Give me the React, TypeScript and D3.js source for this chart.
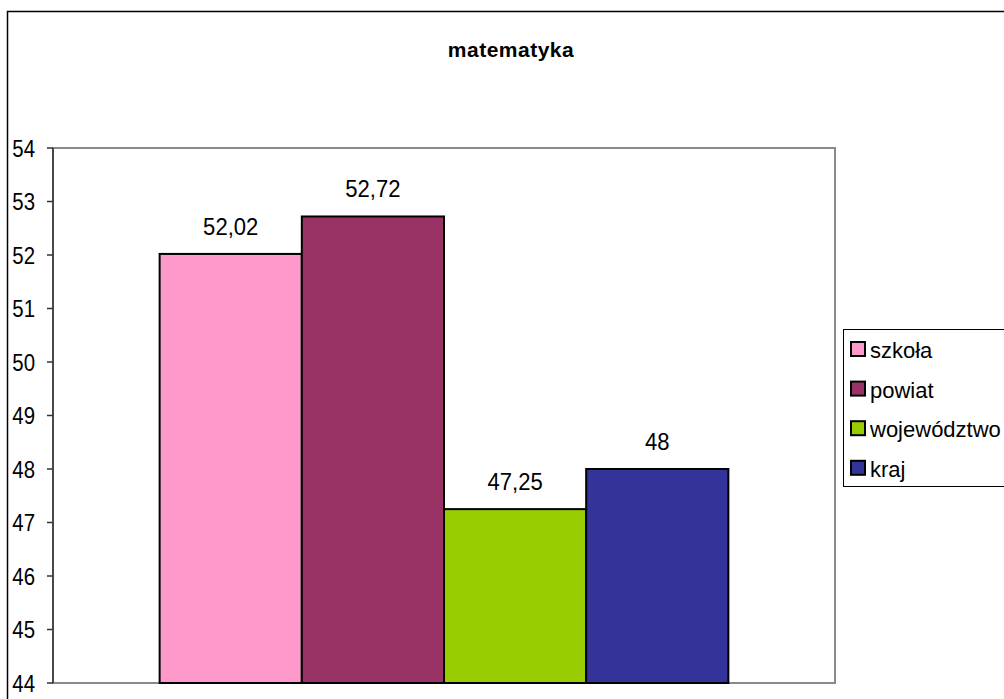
import React, { useEffect, useRef } from "react";
import { select, scaleBand, scaleLinear, range } from "d3";

const title = "matematyka";
const seriesNames = ["szkoła", "powiat", "województwo", "kraj"];
const seriesValues = [52.02, 52.72, 47.25, 48];
const seriesLabels = ["52,02", "52,72", "47,25", "48"];
const seriesColors = ["#FF99CC", "#993366", "#99CC00", "#333399"];
const yTicks = [44, 45, 46, 47, 48, 49, 50, 51, 52, 53, 54];

const W = 1004;
const H = 699;
const plot = { left: 53, top: 148, right: 835, bottom: 683 };
const font = "'Liberation Sans', Arial, sans-serif";

const App = () => {
  const svgRef = useRef<SVGSVGElement>(null);

  useEffect(() => {
    const svg = select(svgRef.current);
    svg.selectAll("*").remove();

    // scales
    const xScale = scaleBand<string>()
      .domain(seriesNames)
      .range([plot.left, plot.right])
      .paddingInner(0)
      .paddingOuter(0.75);
    const yScale = scaleLinear()
      .domain([44, 54])
      .range([plot.bottom, plot.top]);

    svg.append("rect")
      .attr("width", W)
      .attr("height", H)
      .attr("fill", "#fff");

    // outer chart frame (cropped on right and bottom)
    svg.append("rect")
      .attr("x", 7.5)
      .attr("y", 11.5)
      .attr("width", W + 20)
      .attr("height", H + 20)
      .attr("fill", "none")
      .attr("stroke", "#000")
      .attr("stroke-width", 1.5);

    svg.append("text")
      .attr("x", 511)
      .attr("y", 57)
      .attr("text-anchor", "middle")
      .attr("font-family", font)
      .attr("font-weight", "bold")
      .attr("font-size", 21)
      .attr("letter-spacing", 0.5)
      .text(title);

    // plot area border
    svg.append("rect")
      .attr("x", plot.left)
      .attr("y", plot.top)
      .attr("width", plot.right - plot.left)
      .attr("height", plot.bottom - plot.top)
      .attr("fill", "#fff")
      .attr("stroke", "#8a8a8a")
      .attr("stroke-width", 2);

    // bars
    svg.selectAll(".bar")
      .data(range(seriesNames.length))
      .join("rect")
      .attr("class", "bar")
      .attr("x", i => xScale(seriesNames[i])!)
      .attr("y", i => yScale(seriesValues[i]))
      .attr("width", xScale.bandwidth())
      .attr("height", i => yScale(44) - yScale(seriesValues[i]))
      .attr("fill", i => seriesColors[i])
      .attr("stroke", "#000")
      .attr("stroke-width", 2);

    // value labels (the original font is slightly condensed)
    svg.selectAll(".lbl")
      .data(range(seriesNames.length))
      .join("text")
      .attr("class", "lbl")
      .attr("transform", i =>
        `translate(${xScale(seriesNames[i])! + xScale.bandwidth() / 2}, ${yScale(seriesValues[i]) - 19}) scale(0.92, 1)`)
      .attr("text-anchor", "middle")
      .attr("font-family", font)
      .attr("font-size", 24)
      .text(i => seriesLabels[i]);

    // y axis
    const axis = svg.append("g");
    axis.append("line")
      .attr("x1", plot.left)
      .attr("x2", plot.left)
      .attr("y1", plot.top)
      .attr("y2", plot.bottom)
      .attr("stroke", "#333")
      .attr("stroke-width", 1.5);
    axis.selectAll(".tick")
      .data(yTicks)
      .join("line")
      .attr("class", "tick")
      .attr("x1", plot.left - 6)
      .attr("x2", plot.left)
      .attr("y1", d => yScale(d))
      .attr("y2", d => yScale(d))
      .attr("stroke", "#333")
      .attr("stroke-width", 1.5);
    axis.selectAll(".tl")
      .data(yTicks)
      .join("text")
      .attr("class", "tl")
      .attr("transform", d => `translate(35, ${yScale(d) + 8.5}) scale(0.85, 1)`)
      .attr("text-anchor", "end")
      .attr("font-family", font)
      .attr("font-size", 24)
      .text(d => d);

    // legend
    const leg = svg.append("g");
    leg.append("rect")
      .attr("x", 843.5)
      .attr("y", 329.5)
      .attr("width", 200)
      .attr("height", 157)
      .attr("fill", "#fff")
      .attr("stroke", "#000")
      .attr("stroke-width", 1);
    const items = leg.selectAll(".li")
      .data(range(seriesNames.length))
      .join("g")
      .attr("class", "li")
      .attr("transform", i => `translate(0, ${349 + i * 39.6})`);
    items.append("rect")
      .attr("x", 851)
      .attr("y", -7)
      .attr("width", 14)
      .attr("height", 14)
      .attr("fill", i => seriesColors[i])
      .attr("stroke", "#000")
      .attr("stroke-width", 2);
    items.append("text")
      .attr("x", 870)
      .attr("y", 9)
      .attr("font-family", font)
      .attr("font-size", 22)
      .text(i => seriesNames[i]);
  }, []);

  return (
    <svg
      ref={svgRef}
      width={W}
      height={H}
      style={{ position: "absolute", left: 0, top: 0 }}
    />
  );
};

export default App;
